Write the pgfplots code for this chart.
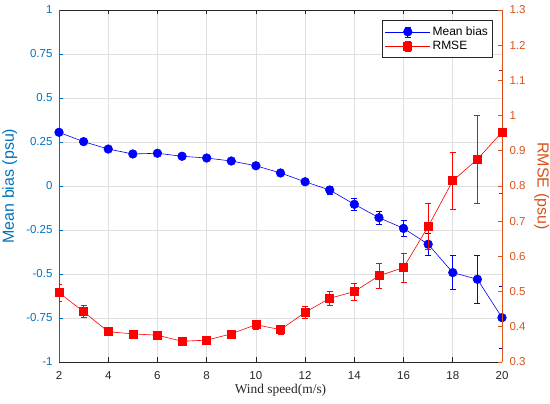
\documentclass[border=0pt]{standalone}
\usepackage{pgfplots}
\pgfplotsset{compat=1.18}
\usepackage{fontspec}
\setmainfont{Liberation Sans}
\newfontfamily\timesfont{Liberation Serif}
\definecolor{mblue}{RGB}{0,114,189}
\definecolor{morange}{RGB}{217,83,25}
\definecolor{mgray}{RGB}{38,38,38}
\definecolor{mgrid}{RGB}{223,223,223}

\pgfplotstableread{
x y e
2 0.305 0.012
3 0.252 0.010
4 0.210 0.010
5 0.182 0.010
6 0.186 0.010
7 0.169 0.010
8 0.159 0.010
9 0.142 0.010
10 0.115 0.012
11 0.074 0.012
12 0.024 0.016
13 -0.023 0.022
14 -0.104 0.032
15 -0.180 0.035
16 -0.241 0.047
17 -0.331 0.065
18 -0.492 0.097
19 -0.530 0.135
20 -0.748 0.176
}\biastable

\pgfplotstableread{
x y e
2 0.497 0.024
3 0.443 0.017
4 0.386 0.011
5 0.380 0.010
6 0.376 0.010
7 0.359 0.008
8 0.362 0.008
9 0.380 0.010
10 0.406 0.013
11 0.392 0.013
12 0.441 0.018
13 0.481 0.021
14 0.500 0.025
15 0.545 0.036
16 0.568 0.042
17 0.685 0.065
18 0.815 0.082
19 0.876 0.126
20 0.953 0.175
}\rmsetable

\begin{document}
\begin{tikzpicture}
\path[use as bounding box] (-59bp,-42bp) rectangle (491bp,362bp);
\begin{axis}[
  at={(0,0)}, anchor=south west,
  scale only axis, width=443bp, height=352bp,
  xmin=2, xmax=20, ymin=-1, ymax=1,
  axis x line*=box, axis y line*=left,
  x axis line style={draw=mgray, line width=0.7bp},
  y axis line style={draw=mblue, line width=0.7bp},
  xtick={2,4,...,20},
  ytick={-1,-0.75,-0.5,-0.25,0,0.25,0.5,0.75,1},
  yticklabels={-1,-0.75,-0.5,-0.25,0,0.25,0.5,0.75,1},
  xticklabels={2,4,6,8,10,12,14,16,18,20},
  tick align=inside,
  major tick length=4.5bp,
  x tick style={draw=mgray, line width=0.6bp},
  y tick style={draw=mblue, line width=0.6bp},
  xmajorgrids, ymajorgrids,
  grid style={draw=mgrid, line width=0.6bp},
  tick label style={font=\fontsize{11.5bp}{13bp}\selectfont},
  x tick label style={text=mgray, yshift=-6bp},
  y tick label style={text=mblue, xshift=-3bp},
  xlabel={\timesfont Wind speed(m/s)},
  xlabel style={at={(axis description cs:0.5,-0.0909)}, anchor=base, font=\fontsize{13.4bp}{15bp}\selectfont, text=mgray},
  ylabel={Mean bias (psu)},
  ylabel style={at={(axis description cs:-0.111,0.5)}, anchor=center, font=\fontsize{16bp}{18bp}\selectfont, text=mblue},
  /pgf/number format/assume math mode=true,
]
\addplot[blue, line width=0.6bp, mark=*, mark size=4.3bp,
  error bars/.cd, y dir=both, y explicit,
  error bar style={blue, line width=0.6bp},
  error mark options={rotate=90, mark size=3bp, blue, line width=0.6bp}]
  table[x=x, y=y, y error=e] {\biastable};
\end{axis}
\begin{axis}[
  at={(0,0)}, anchor=south west,
  scale only axis, width=443bp, height=352bp,
  xmin=2, xmax=20, ymin=0.3, ymax=1.3,
  axis x line=none, axis y line*=right,
  y axis line style={draw=morange, line width=0.7bp},
  ytick={0.3,0.4,0.5,0.6,0.7,0.8,0.9,1,1.1,1.2,1.3},
  yticklabels={0.3,0.4,0.5,0.6,0.7,0.8,0.9,1,1.1,1.2,1.3},
  tick align=inside,
  major tick length=4.5bp,
  y tick style={draw=morange, line width=0.6bp},
  tick label style={font=\fontsize{11.5bp}{13bp}\selectfont},
  y tick label style={text=morange, xshift=4bp},
  ylabel={RMSE (psu)},
  ylabel style={at={(axis description cs:1.0896,0.5)}, anchor=center, rotate=180, font=\fontsize{16bp}{18bp}\selectfont, text=morange},
  /pgf/number format/assume math mode=true,
  legend image code/.code={
    \path (-2.5bp,0bp) -- (42.5bp,0bp);
    \draw[#1, mark=none] (0bp,0bp) -- (40bp,0bp);
    \draw[#1, mark=none] (20bp,-5bp) -- (20bp,5bp) (17bp,-5bp) -- (23bp,-5bp) (17bp,5bp) -- (23bp,5bp);
    \draw[#1, mark repeat=2, mark phase=2] plot coordinates {(0bp,0bp) (20bp,0bp) (40bp,0bp)};
  },
  legend style={at={(0.979,0.9716)}, anchor=north east, draw=mgray, line width=0.5bp,
    fill=white, font=\fontsize{12bp}{14bp}\selectfont, cells={anchor=west},
    inner xsep=2.5bp, inner ysep=4.5bp, nodes={inner sep=2bp}},
]
\addlegendimage{blue, line width=0.6bp, mark=*, mark size=4.3bp}
\addlegendentry{Mean bias}
\addplot[red, line width=0.6bp, mark=square*, mark size=4bp,
  error bars/.cd, y dir=both, y explicit,
  error bar style={red, line width=0.6bp},
  error mark options={rotate=90, mark size=3bp, red, line width=0.6bp}]
  table[x=x, y=y, y error=e] {\rmsetable};
\addlegendentry{RMSE}
\end{axis}
\end{tikzpicture}
\end{document}
